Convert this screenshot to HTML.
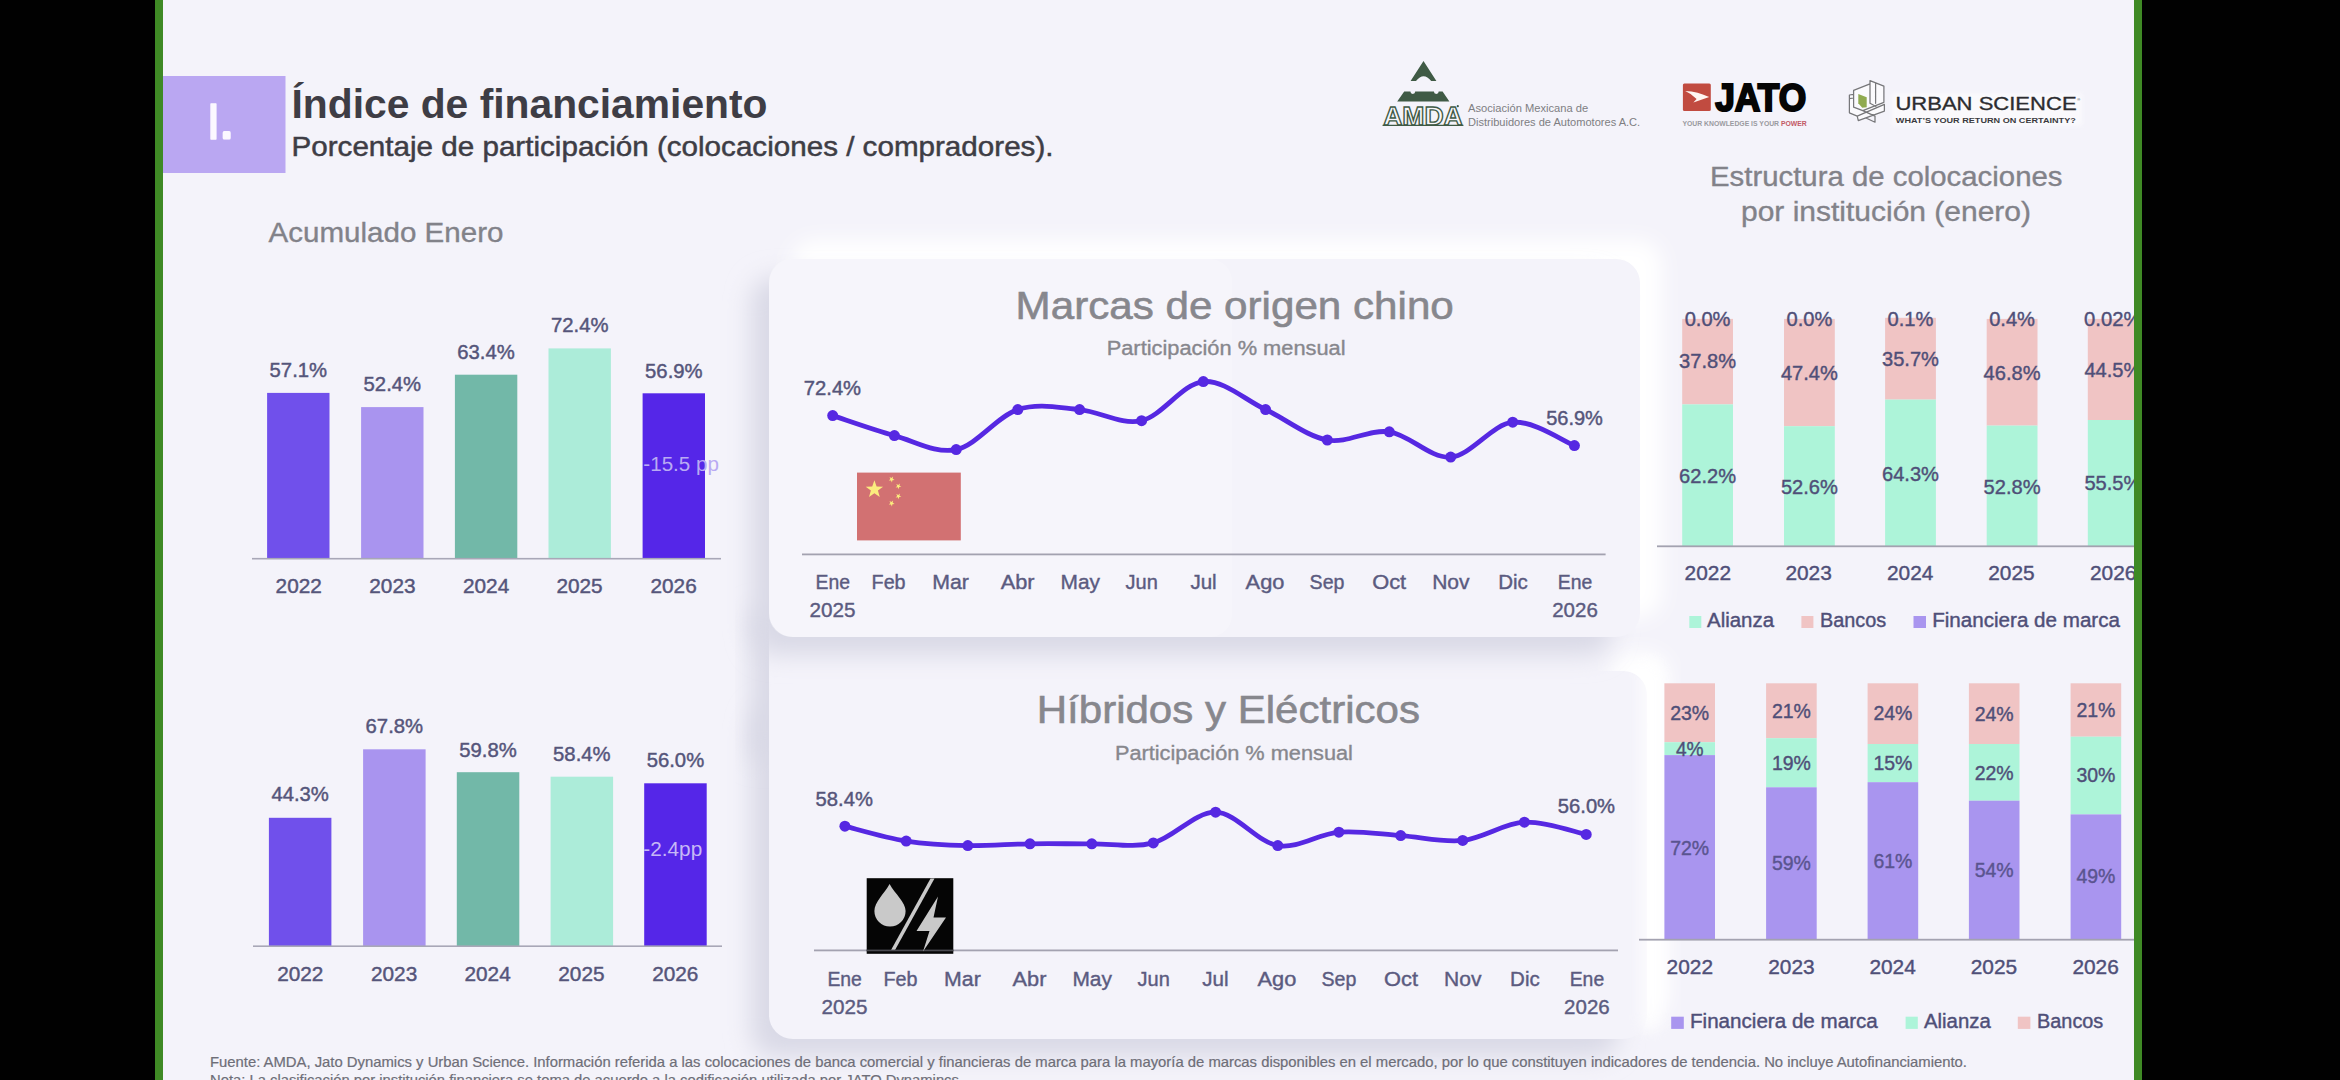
<!DOCTYPE html>
<html lang="es"><head><meta charset="utf-8"><title>Índice de financiamiento</title>
<style>html,body{margin:0;padding:0;background:#000;width:2340px;height:1080px;overflow:hidden}svg{display:block;font-family:"Liberation Sans", sans-serif}</style></head><body>
<svg width="2340" height="1080" viewBox="0 0 2340 1080">
<defs><filter id="b24" x="-20%" y="-20%" width="140%" height="140%"><feGaussianBlur stdDeviation="9.5"/></filter><filter id="b18" x="-20%" y="-20%" width="140%" height="140%"><feGaussianBlur stdDeviation="12"/></filter><filter id="b6" x="-200%" y="-20%" width="500%" height="140%"><feGaussianBlur stdDeviation="7"/></filter><filter id="b2" x="-10%" y="-30%" width="120%" height="160%"><feGaussianBlur stdDeviation="2"/></filter><filter id="b12" x="-20%" y="-20%" width="140%" height="140%"><feGaussianBlur stdDeviation="11"/></filter><clipPath id="leftband"><rect x="690" y="560" width="79" height="260"/></clipPath><clipPath id="slide"><rect x="163" y="0" width="1971" height="1080"/></clipPath></defs>
<rect x="0" y="0" width="2340" height="1080" fill="#010101"/>
<rect x="155" y="0" width="1987" height="1080" fill="#3f8a25"/>
<rect x="163" y="0" width="1971" height="1080" fill="#f4f3fa"/>
<g clip-path="url(#slide)">
<rect x="1610" y="652" width="59" height="368" rx="24" fill="#ffffff" filter="url(#b24)"/>
<rect x="791" y="240" width="871" height="378" rx="24" fill="#ffffff" filter="url(#b24)"/>
<rect x="751" y="705" width="868" height="352" rx="24" fill="#d9d9e6" filter="url(#b18)"/>
<g clip-path="url(#leftband)"><rect x="751" y="610" width="80" height="150" fill="#d9d9e6" filter="url(#b18)"/></g>
<rect x="769" y="671" width="878" height="368" rx="24" fill="#f4f3fa"/>
<rect x="751" y="277" width="861" height="378" rx="24" fill="#d9d9e6" filter="url(#b18)"/>
<rect x="769" y="259" width="871" height="378" rx="24" fill="#f4f3fa"/>
<rect x="769" y="259" width="463" height="378" rx="22" fill="#ffffff" opacity="0.22"/>
<rect x="1641" y="660" width="20" height="372" rx="10" fill="#ffffff" opacity="0.75" filter="url(#b6)"/>
<path d="M1423.5,61 L1436.4,81 L1431.2,81 Q1423.6,71.5 1416,81 L1410.6,81 Z" fill="#3f5a45"/>
<path d="M1404.2,91.5 L1410.4,91.5 A2.4,2.4 0 0 0 1415.2,91.5 L1433.9,91.5 A2.4,2.4 0 0 0 1438.7,91.5 L1442.6,91.5 L1449.4,101.4 L1397.2,101.4 Z" fill="#3f5a45"/>
<text x="1383.2" y="124.6" font-size="26.5" font-weight="700" fill="#f7f6fb" stroke="#3f5a45" stroke-width="1.35" stroke-linejoin="miter" textLength="79.6" lengthAdjust="spacingAndGlyphs">AMDA</text>
<path d="M1382.6,125.4 L1463.4,125.4" fill="none" stroke="#3f5a45" stroke-width="1.1"/>
<circle cx="1457.8" cy="106.2" r="1.1" fill="#3f5a45"/>
<text x="1468.0" y="112.1" font-size="11.2" fill="#7e7e82" font-weight="400" textLength="120.2" lengthAdjust="spacingAndGlyphs" >Asociación Mexicana de</text>
<text x="1468.0" y="125.5" font-size="11.2" fill="#7e7e82" font-weight="400" textLength="172.2" lengthAdjust="spacingAndGlyphs" >Distribuidores de Automotores A.C.</text>
<rect x="1682.9" y="83.4" width="27.9" height="27.6" rx="1.5" fill="#c14b40"/>
<path d="M1685.2,91 Q1698,91.6 1709.2,97.1 L1693.4,102.6 L1696.6,98.9 Q1692,94 1685.2,91 Z" fill="#fff6f2"/>
<text x="1715.2" y="110.5" font-size="38" fill="#050505" font-weight="700" textLength="91.0" lengthAdjust="spacingAndGlyphs" stroke="#050505" stroke-width="2.1" stroke-linejoin="miter">JATO</text>
<text x="1682.4" y="126.2" font-size="6.6" font-weight="700" fill="#9a9aa0" textLength="124.4" lengthAdjust="spacingAndGlyphs">YOUR KNOWLEDGE IS YOUR <tspan fill="#c25a66">POWER</tspan></text>
<path d="M1853.6,90.3 L1870,83.9 L1870,80.6 L1883.9,86.1 L1884.4,111.1 L1858.3,120.6 L1849.4,112.8 L1849.4,95 L1853.6,94.4 Z" fill="#ffffff" opacity="0.6"/>
<path d="M1858.3,93.9 L1866.7,97.2 L1866.7,107.2 L1862.2,107.8 L1858.3,103.3 Z" fill="#90aa50"/>
<path d="M1870,80.6 L1883.9,86.1 L1883.9,101.7 M1870,80.6 L1870,103.3 M1875.6,83 L1875.6,103.3 M1853.6,90.3 L1870,83.9 M1853.6,90.3 L1853.6,107.2 L1862.8,110.6 L1883.9,102.3 M1849.4,95 L1853.6,94.4 M1849.4,95 L1849.4,112.8 L1857.2,116.1 L1884.4,104.4 L1884.4,111.1 L1858.3,120.6 L1857.2,116.1 M1849.4,98.6 L1853.6,98 M1862.8,110.6 L1875,116.1 L1875,122.2 L1866,118 M1870,103.3 L1876,106.5" fill="none" stroke="#77777a" stroke-width="1.25" stroke-linejoin="round" stroke-linecap="round"/>
<rect x="1892" y="93" width="190" height="33" fill="#ffffff" opacity="0.55" filter="url(#b2)"/>
<text x="1895.4" y="109.5" font-size="17.6" fill="#2c2c30" font-weight="400" textLength="181.2" lengthAdjust="spacingAndGlyphs" stroke="#2c2c30" stroke-width="0.3">URBAN SCIENCE</text>
<text x="1895.8" y="122.5" font-size="7.7" fill="#3a3a3e" font-weight="700" textLength="180.0" lengthAdjust="spacingAndGlyphs" >WHAT&#8217;S YOUR RETURN ON CERTAINTY?</text>
<text x="2077.2" y="101" font-size="4" fill="#2c2c30">®</text>
<rect x="163" y="76" width="122.5" height="97" fill="#baa7f2"/>
<text y="138.9" font-size="50" fill="#fbf8ff" stroke="#fbf8ff" stroke-linejoin="round"><tspan x="206.6" stroke-width="1.5">I</tspan><tspan x="219.8" y="138" stroke-width="3.2">.</tspan></text>
<text x="291.5" y="118.0" font-size="41.5" fill="#3e3d45" font-weight="700" textLength="476.0" lengthAdjust="spacingAndGlyphs" >Índice de financiamiento</text>
<text x="291.5" y="155.5" font-size="28.5" fill="#3e3d45" font-weight="400" textLength="762.0" lengthAdjust="spacingAndGlyphs" stroke="#3e3d45" stroke-width="0.5">Porcentaje de participación (colocaciones / compradores).</text>
<text x="268.5" y="242.3" font-size="28" fill="#828289" font-weight="400" textLength="235.0" lengthAdjust="spacingAndGlyphs" stroke="#828289" stroke-width="0.35">Acumulado Enero</text>
<rect x="267.1" y="392.9" width="62.4" height="165.8" fill="#7050eb"/>
<rect x="361.1" y="407.1" width="62.4" height="151.6" fill="#a994ef"/>
<rect x="454.9" y="374.7" width="62.4" height="184.0" fill="#72b8a8"/>
<rect x="548.5" y="348.4" width="62.4" height="210.3" fill="#acecd9"/>
<rect x="642.6" y="393.3" width="62.4" height="165.4" fill="#5526e8"/>
<rect x="252" y="557.9" width="469" height="1.6" fill="#a8a7b7"/>
<text x="269.6" y="377.3" font-size="20.5" fill="#55557a" font-weight="400" textLength="57.5" lengthAdjust="spacingAndGlyphs" stroke="#55557a" stroke-width="0.45">57.1%</text>
<text x="363.6" y="390.7" font-size="20.5" fill="#55557a" font-weight="400" textLength="57.5" lengthAdjust="spacingAndGlyphs" stroke="#55557a" stroke-width="0.45">52.4%</text>
<text x="457.3" y="358.7" font-size="20.5" fill="#55557a" font-weight="400" textLength="57.5" lengthAdjust="spacingAndGlyphs" stroke="#55557a" stroke-width="0.45">63.4%</text>
<text x="551.0" y="332.2" font-size="20.5" fill="#55557a" font-weight="400" textLength="57.5" lengthAdjust="spacingAndGlyphs" stroke="#55557a" stroke-width="0.45">72.4%</text>
<text x="645.1" y="377.8" font-size="20.5" fill="#55557a" font-weight="400" textLength="57.5" lengthAdjust="spacingAndGlyphs" stroke="#55557a" stroke-width="0.45">56.9%</text>
<text x="275.6" y="593.3" font-size="21" fill="#55557a" font-weight="400" textLength="46.2" lengthAdjust="spacingAndGlyphs" stroke="#55557a" stroke-width="0.45">2022</text>
<text x="369.3" y="593.3" font-size="21" fill="#55557a" font-weight="400" textLength="46.2" lengthAdjust="spacingAndGlyphs" stroke="#55557a" stroke-width="0.45">2023</text>
<text x="463.0" y="593.3" font-size="21" fill="#55557a" font-weight="400" textLength="46.2" lengthAdjust="spacingAndGlyphs" stroke="#55557a" stroke-width="0.45">2024</text>
<text x="556.4" y="593.3" font-size="21" fill="#55557a" font-weight="400" textLength="46.2" lengthAdjust="spacingAndGlyphs" stroke="#55557a" stroke-width="0.45">2025</text>
<text x="650.5" y="593.3" font-size="21" fill="#55557a" font-weight="400" textLength="46.2" lengthAdjust="spacingAndGlyphs" stroke="#55557a" stroke-width="0.45">2026</text>
<text x="643.3" y="471.1" font-size="20.5" fill="#b9aaf3" font-weight="400" textLength="75.7" lengthAdjust="spacingAndGlyphs" >-15.5 pp</text>
<rect x="268.9" y="817.8" width="62.5" height="128.4" fill="#7050eb"/>
<rect x="363.1" y="749.3" width="62.5" height="196.9" fill="#a994ef"/>
<rect x="456.8" y="772.2" width="62.5" height="174.0" fill="#72b8a8"/>
<rect x="550.6" y="776.7" width="62.5" height="169.5" fill="#acecd9"/>
<rect x="644.2" y="783.3" width="62.5" height="162.9" fill="#5526e8"/>
<rect x="253" y="945.4" width="469" height="1.6" fill="#a8a7b7"/>
<text x="271.4" y="801.1" font-size="20.5" fill="#55557a" font-weight="400" textLength="57.5" lengthAdjust="spacingAndGlyphs" stroke="#55557a" stroke-width="0.45">44.3%</text>
<text x="365.6" y="733.3" font-size="20.5" fill="#55557a" font-weight="400" textLength="57.5" lengthAdjust="spacingAndGlyphs" stroke="#55557a" stroke-width="0.45">67.8%</text>
<text x="459.3" y="756.7" font-size="20.5" fill="#55557a" font-weight="400" textLength="57.5" lengthAdjust="spacingAndGlyphs" stroke="#55557a" stroke-width="0.45">59.8%</text>
<text x="553.1" y="760.7" font-size="20.5" fill="#55557a" font-weight="400" textLength="57.5" lengthAdjust="spacingAndGlyphs" stroke="#55557a" stroke-width="0.45">58.4%</text>
<text x="646.7" y="767.3" font-size="20.5" fill="#55557a" font-weight="400" textLength="57.5" lengthAdjust="spacingAndGlyphs" stroke="#55557a" stroke-width="0.45">56.0%</text>
<text x="277.2" y="981.1" font-size="21" fill="#55557a" font-weight="400" textLength="46.2" lengthAdjust="spacingAndGlyphs" stroke="#55557a" stroke-width="0.45">2022</text>
<text x="371.0" y="981.1" font-size="21" fill="#55557a" font-weight="400" textLength="46.2" lengthAdjust="spacingAndGlyphs" stroke="#55557a" stroke-width="0.45">2023</text>
<text x="464.5" y="981.1" font-size="21" fill="#55557a" font-weight="400" textLength="46.2" lengthAdjust="spacingAndGlyphs" stroke="#55557a" stroke-width="0.45">2024</text>
<text x="558.3" y="981.1" font-size="21" fill="#55557a" font-weight="400" textLength="46.2" lengthAdjust="spacingAndGlyphs" stroke="#55557a" stroke-width="0.45">2025</text>
<text x="652.2" y="981.1" font-size="21" fill="#55557a" font-weight="400" textLength="46.2" lengthAdjust="spacingAndGlyphs" stroke="#55557a" stroke-width="0.45">2026</text>
<text x="643.3" y="855.6" font-size="20.5" fill="#c6b8f6" font-weight="400" textLength="58.9" lengthAdjust="spacingAndGlyphs" >-2.4pp</text>
<text x="1015.6" y="318.9" font-size="39.5" fill="#87878d" font-weight="400" textLength="438.2" lengthAdjust="spacingAndGlyphs" stroke="#87878d" stroke-width="0.6">Marcas de origen chino</text>
<text x="1106.7" y="354.9" font-size="20" fill="#87878d" font-weight="400" textLength="238.9" lengthAdjust="spacingAndGlyphs" stroke="#87878d" stroke-width="0.35">Participación % mensual</text>
<rect x="802" y="553.5" width="803.6" height="1.8" fill="#a3a2b0"/>
<path d="M832.7,415.6 C843.0,418.9 873.8,429.9 894.4,435.6 C915.0,441.3 935.6,453.9 956.2,449.6 C976.8,445.3 997.2,416.3 1017.8,409.6 C1038.4,402.9 1059.0,407.8 1079.6,409.6 C1100.2,411.5 1121.0,425.4 1141.6,420.7 C1162.2,416.0 1182.6,383.5 1203.3,381.6 C1224.0,379.8 1244.9,399.9 1265.6,409.6 C1286.3,419.3 1306.7,436.3 1327.3,440.0 C1347.9,443.7 1368.7,428.9 1389.3,431.8 C1409.9,434.7 1430.1,458.7 1450.7,457.1 C1471.3,455.5 1492.1,424.1 1512.7,422.2 C1533.3,420.3 1564.1,441.7 1574.4,445.6" fill="none" stroke="#5628e2" stroke-width="4.8" stroke-linecap="round" stroke-linejoin="round"/>
<circle cx="832.7" cy="415.6" r="5.5" fill="#5628e2"/>
<circle cx="894.4" cy="435.6" r="5.5" fill="#5628e2"/>
<circle cx="956.2" cy="449.6" r="5.5" fill="#5628e2"/>
<circle cx="1017.8" cy="409.6" r="5.5" fill="#5628e2"/>
<circle cx="1079.6" cy="409.6" r="5.5" fill="#5628e2"/>
<circle cx="1141.6" cy="420.7" r="5.5" fill="#5628e2"/>
<circle cx="1203.3" cy="381.6" r="5.5" fill="#5628e2"/>
<circle cx="1265.6" cy="409.6" r="5.5" fill="#5628e2"/>
<circle cx="1327.3" cy="440.0" r="5.5" fill="#5628e2"/>
<circle cx="1389.3" cy="431.8" r="5.5" fill="#5628e2"/>
<circle cx="1450.7" cy="457.1" r="5.5" fill="#5628e2"/>
<circle cx="1512.7" cy="422.2" r="5.5" fill="#5628e2"/>
<circle cx="1574.4" cy="445.6" r="5.5" fill="#5628e2"/>
<text x="803.8" y="394.9" font-size="20.5" fill="#55557a" font-weight="400" textLength="57.3" lengthAdjust="spacingAndGlyphs" stroke="#55557a" stroke-width="0.45">72.4%</text>
<text x="1546.2" y="425.1" font-size="20.5" fill="#55557a" font-weight="400" textLength="56.7" lengthAdjust="spacingAndGlyphs" stroke="#55557a" stroke-width="0.45">56.9%</text>
<text x="815.5" y="589.2" font-size="20.5" fill="#5b5b80" font-weight="400" textLength="34.5" lengthAdjust="spacingAndGlyphs" stroke="#5b5b80" stroke-width="0.4">Ene</text>
<text x="871.6" y="589.2" font-size="20.5" fill="#5b5b80" font-weight="400" textLength="34.0" lengthAdjust="spacingAndGlyphs" stroke="#5b5b80" stroke-width="0.4">Feb</text>
<text x="932.2" y="589.2" font-size="20.5" fill="#5b5b80" font-weight="400" textLength="36.7" lengthAdjust="spacingAndGlyphs" stroke="#5b5b80" stroke-width="0.4">Mar</text>
<text x="1000.7" y="589.2" font-size="20.5" fill="#5b5b80" font-weight="400" textLength="33.8" lengthAdjust="spacingAndGlyphs" stroke="#5b5b80" stroke-width="0.4">Abr</text>
<text x="1060.5" y="589.2" font-size="20.5" fill="#5b5b80" font-weight="400" textLength="39.5" lengthAdjust="spacingAndGlyphs" stroke="#5b5b80" stroke-width="0.4">May</text>
<text x="1125.5" y="589.2" font-size="20.5" fill="#5b5b80" font-weight="400" textLength="32.3" lengthAdjust="spacingAndGlyphs" stroke="#5b5b80" stroke-width="0.4">Jun</text>
<text x="1190.4" y="589.2" font-size="20.5" fill="#5b5b80" font-weight="400" textLength="26.3" lengthAdjust="spacingAndGlyphs" stroke="#5b5b80" stroke-width="0.4">Jul</text>
<text x="1245.6" y="589.2" font-size="20.5" fill="#5b5b80" font-weight="400" textLength="38.8" lengthAdjust="spacingAndGlyphs" stroke="#5b5b80" stroke-width="0.4">Ago</text>
<text x="1309.6" y="589.2" font-size="20.5" fill="#5b5b80" font-weight="400" textLength="34.8" lengthAdjust="spacingAndGlyphs" stroke="#5b5b80" stroke-width="0.4">Sep</text>
<text x="1372.2" y="589.2" font-size="20.5" fill="#5b5b80" font-weight="400" textLength="34.0" lengthAdjust="spacingAndGlyphs" stroke="#5b5b80" stroke-width="0.4">Oct</text>
<text x="1432.2" y="589.2" font-size="20.5" fill="#5b5b80" font-weight="400" textLength="37.4" lengthAdjust="spacingAndGlyphs" stroke="#5b5b80" stroke-width="0.4">Nov</text>
<text x="1498.2" y="589.2" font-size="20.5" fill="#5b5b80" font-weight="400" textLength="29.6" lengthAdjust="spacingAndGlyphs" stroke="#5b5b80" stroke-width="0.4">Dic</text>
<text x="1557.8" y="589.2" font-size="20.5" fill="#5b5b80" font-weight="400" textLength="34.5" lengthAdjust="spacingAndGlyphs" stroke="#5b5b80" stroke-width="0.4">Ene</text>
<text x="809.6" y="616.7" font-size="21" fill="#5b5b80" font-weight="400" textLength="46.0" lengthAdjust="spacingAndGlyphs" stroke="#5b5b80" stroke-width="0.4">2025</text>
<text x="1552.2" y="616.7" font-size="21" fill="#5b5b80" font-weight="400" textLength="45.6" lengthAdjust="spacingAndGlyphs" stroke="#5b5b80" stroke-width="0.4">2026</text>
<text x="1036.7" y="722.7" font-size="39.5" fill="#87878d" font-weight="400" textLength="383.3" lengthAdjust="spacingAndGlyphs" stroke="#87878d" stroke-width="0.6">Híbridos y Eléctricos</text>
<text x="1114.9" y="760.0" font-size="20" fill="#87878d" font-weight="400" textLength="238.0" lengthAdjust="spacingAndGlyphs" stroke="#87878d" stroke-width="0.35">Participación % mensual</text>
<rect x="814" y="949.5" width="804.0" height="1.8" fill="#a3a2b0"/>
<path d="M844.9,826.2 C855.1,828.7 885.7,837.9 906.2,841.1 C926.7,844.3 947.2,845.2 967.8,845.6 C988.4,846.0 1009.3,844.1 1030.0,843.8 C1050.7,843.5 1071.2,843.9 1091.8,843.8 C1112.3,843.6 1132.7,848.2 1153.3,842.9 C1173.9,837.6 1194.8,811.8 1215.6,812.2 C1236.3,812.7 1257.2,842.3 1277.8,845.6 C1298.3,848.9 1318.4,833.9 1338.9,832.2 C1359.4,830.5 1380.1,834.2 1400.7,835.6 C1421.3,837.0 1442.1,842.6 1462.7,840.4 C1483.3,838.2 1503.8,823.2 1524.4,822.2 C1545.0,821.2 1575.9,832.4 1586.2,834.4" fill="none" stroke="#5628e2" stroke-width="4.8" stroke-linecap="round" stroke-linejoin="round"/>
<circle cx="844.9" cy="826.2" r="5.5" fill="#5628e2"/>
<circle cx="906.2" cy="841.1" r="5.5" fill="#5628e2"/>
<circle cx="967.8" cy="845.6" r="5.5" fill="#5628e2"/>
<circle cx="1030.0" cy="843.8" r="5.5" fill="#5628e2"/>
<circle cx="1091.8" cy="843.8" r="5.5" fill="#5628e2"/>
<circle cx="1153.3" cy="842.9" r="5.5" fill="#5628e2"/>
<circle cx="1215.6" cy="812.2" r="5.5" fill="#5628e2"/>
<circle cx="1277.8" cy="845.6" r="5.5" fill="#5628e2"/>
<circle cx="1338.9" cy="832.2" r="5.5" fill="#5628e2"/>
<circle cx="1400.7" cy="835.6" r="5.5" fill="#5628e2"/>
<circle cx="1462.7" cy="840.4" r="5.5" fill="#5628e2"/>
<circle cx="1524.4" cy="822.2" r="5.5" fill="#5628e2"/>
<circle cx="1586.2" cy="834.4" r="5.5" fill="#5628e2"/>
<text x="815.6" y="805.6" font-size="20.5" fill="#55557a" font-weight="400" textLength="57.3" lengthAdjust="spacingAndGlyphs" stroke="#55557a" stroke-width="0.45">58.4%</text>
<text x="1557.8" y="812.9" font-size="20.5" fill="#55557a" font-weight="400" textLength="57.3" lengthAdjust="spacingAndGlyphs" stroke="#55557a" stroke-width="0.45">56.0%</text>
<text x="827.4" y="986.4" font-size="20.5" fill="#5b5b80" font-weight="400" textLength="34.5" lengthAdjust="spacingAndGlyphs" stroke="#5b5b80" stroke-width="0.4">Ene</text>
<text x="883.5" y="986.4" font-size="20.5" fill="#5b5b80" font-weight="400" textLength="34.0" lengthAdjust="spacingAndGlyphs" stroke="#5b5b80" stroke-width="0.4">Feb</text>
<text x="944.1" y="986.4" font-size="20.5" fill="#5b5b80" font-weight="400" textLength="36.7" lengthAdjust="spacingAndGlyphs" stroke="#5b5b80" stroke-width="0.4">Mar</text>
<text x="1012.6" y="986.4" font-size="20.5" fill="#5b5b80" font-weight="400" textLength="33.8" lengthAdjust="spacingAndGlyphs" stroke="#5b5b80" stroke-width="0.4">Abr</text>
<text x="1072.4" y="986.4" font-size="20.5" fill="#5b5b80" font-weight="400" textLength="39.5" lengthAdjust="spacingAndGlyphs" stroke="#5b5b80" stroke-width="0.4">May</text>
<text x="1137.5" y="986.4" font-size="20.5" fill="#5b5b80" font-weight="400" textLength="32.3" lengthAdjust="spacingAndGlyphs" stroke="#5b5b80" stroke-width="0.4">Jun</text>
<text x="1202.3" y="986.4" font-size="20.5" fill="#5b5b80" font-weight="400" textLength="26.3" lengthAdjust="spacingAndGlyphs" stroke="#5b5b80" stroke-width="0.4">Jul</text>
<text x="1257.5" y="986.4" font-size="20.5" fill="#5b5b80" font-weight="400" textLength="38.8" lengthAdjust="spacingAndGlyphs" stroke="#5b5b80" stroke-width="0.4">Ago</text>
<text x="1321.5" y="986.4" font-size="20.5" fill="#5b5b80" font-weight="400" textLength="34.8" lengthAdjust="spacingAndGlyphs" stroke="#5b5b80" stroke-width="0.4">Sep</text>
<text x="1384.1" y="986.4" font-size="20.5" fill="#5b5b80" font-weight="400" textLength="34.0" lengthAdjust="spacingAndGlyphs" stroke="#5b5b80" stroke-width="0.4">Oct</text>
<text x="1444.1" y="986.4" font-size="20.5" fill="#5b5b80" font-weight="400" textLength="37.4" lengthAdjust="spacingAndGlyphs" stroke="#5b5b80" stroke-width="0.4">Nov</text>
<text x="1510.1" y="986.4" font-size="20.5" fill="#5b5b80" font-weight="400" textLength="29.6" lengthAdjust="spacingAndGlyphs" stroke="#5b5b80" stroke-width="0.4">Dic</text>
<text x="1569.7" y="986.4" font-size="20.5" fill="#5b5b80" font-weight="400" textLength="34.5" lengthAdjust="spacingAndGlyphs" stroke="#5b5b80" stroke-width="0.4">Ene</text>
<text x="821.5" y="1013.9" font-size="21" fill="#5b5b80" font-weight="400" textLength="46.0" lengthAdjust="spacingAndGlyphs" stroke="#5b5b80" stroke-width="0.4">2025</text>
<text x="1564.1" y="1013.9" font-size="21" fill="#5b5b80" font-weight="400" textLength="45.6" lengthAdjust="spacingAndGlyphs" stroke="#5b5b80" stroke-width="0.4">2026</text>
<rect x="857" y="472.6" width="103.8" height="67.8" fill="#d27172"/>
<polygon points="874.4,480.3 876.6,486.5 883.1,486.7 877.9,490.6 879.8,496.9 874.4,493.2 869.0,496.9 870.9,490.6 865.7,486.7 872.2,486.5" fill="#fbec7e"/>
<polygon points="893.1,476.6 892.7,478.8 894.6,479.9 892.4,480.2 891.9,482.4 891.0,480.4 888.8,480.6 890.4,479.0 889.5,477.0 891.5,478.1" fill="#fbec7e"/>
<polygon points="899.9,483.5 899.5,485.7 901.4,486.8 899.2,487.1 898.7,489.3 897.8,487.3 895.6,487.5 897.2,485.9 896.3,483.9 898.3,485.0" fill="#fbec7e"/>
<polygon points="899.9,493.5 899.5,495.7 901.4,496.8 899.2,497.1 898.7,499.3 897.8,497.3 895.6,497.5 897.2,495.9 896.3,493.9 898.3,495.0" fill="#fbec7e"/>
<polygon points="893.1,500.6 892.7,502.8 894.6,503.9 892.4,504.2 891.9,506.4 891.0,504.4 888.8,504.6 890.4,503.0 889.5,501.0 891.5,502.1" fill="#fbec7e"/>
<rect x="866.7" y="878.2" width="86.6" height="75.6" fill="#050505"/>
<path d="M889.6,884 C884,894 874.4,902 874.4,911 A15.6,15.6 0 0 0 905.6,911 C905.6,902 895,894 889.6,884 Z" fill="#c9c9c9"/>
<path d="M890.5,951 L930.5,878.5 L934.5,878.5 L894.5,951 Z" fill="#c9c9c9"/>
<rect x="866.7" y="949.6" width="86.6" height="1.7" fill="#4a4a50"/>
<path d="M938,896.5 L916.5,931 L929.5,931 L923,951.5 L946,917.5 L933.5,917.5 Z" fill="#c9c9c9"/>
<text x="1710.0" y="186.0" font-size="27.5" fill="#828289" font-weight="400" textLength="352.5" lengthAdjust="spacingAndGlyphs" stroke="#828289" stroke-width="0.35">Estructura de colocaciones</text>
<text x="1741.0" y="221.3" font-size="27.5" fill="#828289" font-weight="400" textLength="290.0" lengthAdjust="spacingAndGlyphs" stroke="#828289" stroke-width="0.35">por institución (enero)</text>
<rect x="1682.2" y="318.9" width="50.8" height="85.5" fill="#f0c4c4"/>
<rect x="1682.2" y="404.4" width="50.8" height="141.8" fill="#adf4d9"/>
<rect x="1784.0" y="318.9" width="50.8" height="107.3" fill="#f0c4c4"/>
<rect x="1784.0" y="426.2" width="50.8" height="120.0" fill="#adf4d9"/>
<rect x="1885.1" y="317.8" width="50.8" height="81.8" fill="#f0c4c4"/>
<rect x="1885.1" y="399.6" width="50.8" height="146.6" fill="#adf4d9"/>
<rect x="1986.7" y="318.9" width="50.8" height="106.7" fill="#f0c4c4"/>
<rect x="1986.7" y="425.6" width="50.8" height="120.6" fill="#adf4d9"/>
<rect x="2087.8" y="318.9" width="50.8" height="101.1" fill="#f0c4c4"/>
<rect x="2087.8" y="420.0" width="50.8" height="126.2" fill="#adf4d9"/>
<rect x="1657" y="545.4" width="480" height="1.8" fill="#a3a2b0"/>
<text x="1684.7" y="325.6" font-size="20.5" fill="#4f4f78" font-weight="400" textLength="45.8" lengthAdjust="spacingAndGlyphs" stroke="#4f4f78" stroke-width="0.4">0.0%</text>
<text x="1679.1" y="368.4" font-size="20.5" fill="#4f4f78" font-weight="400" textLength="57.0" lengthAdjust="spacingAndGlyphs" stroke="#4f4f78" stroke-width="0.4">37.8%</text>
<text x="1679.1" y="482.7" font-size="20.5" fill="#4f4f78" font-weight="400" textLength="57.0" lengthAdjust="spacingAndGlyphs" stroke="#4f4f78" stroke-width="0.4">62.2%</text>
<text x="1786.5" y="325.6" font-size="20.5" fill="#4f4f78" font-weight="400" textLength="45.8" lengthAdjust="spacingAndGlyphs" stroke="#4f4f78" stroke-width="0.4">0.0%</text>
<text x="1780.9" y="380.0" font-size="20.5" fill="#4f4f78" font-weight="400" textLength="57.0" lengthAdjust="spacingAndGlyphs" stroke="#4f4f78" stroke-width="0.4">47.4%</text>
<text x="1780.9" y="494.4" font-size="20.5" fill="#4f4f78" font-weight="400" textLength="57.0" lengthAdjust="spacingAndGlyphs" stroke="#4f4f78" stroke-width="0.4">52.6%</text>
<text x="1887.6" y="325.6" font-size="20.5" fill="#4f4f78" font-weight="400" textLength="45.8" lengthAdjust="spacingAndGlyphs" stroke="#4f4f78" stroke-width="0.4">0.1%</text>
<text x="1882.0" y="366.2" font-size="20.5" fill="#4f4f78" font-weight="400" textLength="57.0" lengthAdjust="spacingAndGlyphs" stroke="#4f4f78" stroke-width="0.4">35.7%</text>
<text x="1882.0" y="480.7" font-size="20.5" fill="#4f4f78" font-weight="400" textLength="57.0" lengthAdjust="spacingAndGlyphs" stroke="#4f4f78" stroke-width="0.4">64.3%</text>
<text x="1989.2" y="325.6" font-size="20.5" fill="#4f4f78" font-weight="400" textLength="45.8" lengthAdjust="spacingAndGlyphs" stroke="#4f4f78" stroke-width="0.4">0.4%</text>
<text x="1983.6" y="380.0" font-size="20.5" fill="#4f4f78" font-weight="400" textLength="57.0" lengthAdjust="spacingAndGlyphs" stroke="#4f4f78" stroke-width="0.4">46.8%</text>
<text x="1983.6" y="493.8" font-size="20.5" fill="#4f4f78" font-weight="400" textLength="57.0" lengthAdjust="spacingAndGlyphs" stroke="#4f4f78" stroke-width="0.4">52.8%</text>
<text x="2084.0" y="325.6" font-size="20.5" fill="#4f4f78" font-weight="400" textLength="57.5" lengthAdjust="spacingAndGlyphs" stroke="#4f4f78" stroke-width="0.4">0.02%</text>
<text x="2084.4" y="376.7" font-size="20.5" fill="#4f4f78" font-weight="400" textLength="57.0" lengthAdjust="spacingAndGlyphs" stroke="#4f4f78" stroke-width="0.4">44.5%</text>
<text x="2084.4" y="490.0" font-size="20.5" fill="#4f4f78" font-weight="400" textLength="57.0" lengthAdjust="spacingAndGlyphs" stroke="#4f4f78" stroke-width="0.4">55.5%</text>
<text x="1684.6" y="580.4" font-size="21" fill="#4f4f78" font-weight="400" textLength="46.4" lengthAdjust="spacingAndGlyphs" stroke="#4f4f78" stroke-width="0.4">2022</text>
<text x="1785.4" y="580.4" font-size="21" fill="#4f4f78" font-weight="400" textLength="46.4" lengthAdjust="spacingAndGlyphs" stroke="#4f4f78" stroke-width="0.4">2023</text>
<text x="1887.0" y="580.4" font-size="21" fill="#4f4f78" font-weight="400" textLength="46.4" lengthAdjust="spacingAndGlyphs" stroke="#4f4f78" stroke-width="0.4">2024</text>
<text x="1988.2" y="580.4" font-size="21" fill="#4f4f78" font-weight="400" textLength="46.4" lengthAdjust="spacingAndGlyphs" stroke="#4f4f78" stroke-width="0.4">2025</text>
<text x="2090.0" y="580.4" font-size="21" fill="#4f4f78" font-weight="400" textLength="46.4" lengthAdjust="spacingAndGlyphs" stroke="#4f4f78" stroke-width="0.4">2026</text>
<rect x="1689.3" y="616" width="12" height="12" fill="#adf4d9"/>
<text x="1707.1" y="627.1" font-size="19.5" fill="#4f4f78" font-weight="400" textLength="66.9" lengthAdjust="spacingAndGlyphs" stroke="#4f4f78" stroke-width="0.4">Alianza</text>
<rect x="1801.4" y="616" width="12" height="12" fill="#f0c4c4"/>
<text x="1820.0" y="627.1" font-size="19.5" fill="#4f4f78" font-weight="400" textLength="66.2" lengthAdjust="spacingAndGlyphs" stroke="#4f4f78" stroke-width="0.4">Bancos</text>
<rect x="1913.5" y="616" width="12.5" height="12" fill="#a995ef"/>
<text x="1932.2" y="627.1" font-size="19.5" fill="#4f4f78" font-weight="400" textLength="187.8" lengthAdjust="spacingAndGlyphs" stroke="#4f4f78" stroke-width="0.4">Financiera de marca</text>
<rect x="1664.4" y="683.3" width="50.6" height="58.9" fill="#f0c4c4"/>
<rect x="1664.4" y="742.2" width="50.6" height="12.9" fill="#adf4d9"/>
<rect x="1664.4" y="755.1" width="50.6" height="184.5" fill="#a995ef"/>
<rect x="1766.1" y="683.3" width="50.6" height="54.9" fill="#f0c4c4"/>
<rect x="1766.1" y="738.2" width="50.6" height="49.1" fill="#adf4d9"/>
<rect x="1766.1" y="787.3" width="50.6" height="152.3" fill="#a995ef"/>
<rect x="1867.6" y="683.3" width="50.6" height="60.7" fill="#f0c4c4"/>
<rect x="1867.6" y="744.0" width="50.6" height="38.2" fill="#adf4d9"/>
<rect x="1867.6" y="782.2" width="50.6" height="157.4" fill="#a995ef"/>
<rect x="1968.9" y="683.3" width="50.6" height="60.7" fill="#f0c4c4"/>
<rect x="1968.9" y="744.0" width="50.6" height="56.7" fill="#adf4d9"/>
<rect x="1968.9" y="800.7" width="50.6" height="138.9" fill="#a995ef"/>
<rect x="2070.6" y="683.3" width="50.6" height="53.4" fill="#f0c4c4"/>
<rect x="2070.6" y="736.7" width="50.6" height="77.7" fill="#adf4d9"/>
<rect x="2070.6" y="814.4" width="50.6" height="125.2" fill="#a995ef"/>
<rect x="1639" y="938.8" width="500" height="1.8" fill="#a3a2b0"/>
<text x="1670.2" y="720.4" font-size="20.5" fill="#4f4f78" font-weight="400" textLength="39.0" lengthAdjust="spacingAndGlyphs" stroke="#4f4f78" stroke-width="0.4">23%</text>
<text x="1675.9" y="756.0" font-size="20.5" fill="#4f4f78" font-weight="400" textLength="27.7" lengthAdjust="spacingAndGlyphs" stroke="#4f4f78" stroke-width="0.4">4%</text>
<text x="1670.2" y="855.1" font-size="20.5" fill="#5a548f" font-weight="400" textLength="39.0" lengthAdjust="spacingAndGlyphs" stroke="#5a548f" stroke-width="0.4">72%</text>
<text x="1771.9" y="718.2" font-size="20.5" fill="#4f4f78" font-weight="400" textLength="39.0" lengthAdjust="spacingAndGlyphs" stroke="#4f4f78" stroke-width="0.4">21%</text>
<text x="1771.9" y="769.6" font-size="20.5" fill="#4f4f78" font-weight="400" textLength="39.0" lengthAdjust="spacingAndGlyphs" stroke="#4f4f78" stroke-width="0.4">19%</text>
<text x="1771.9" y="870.0" font-size="20.5" fill="#5a548f" font-weight="400" textLength="39.0" lengthAdjust="spacingAndGlyphs" stroke="#5a548f" stroke-width="0.4">59%</text>
<text x="1873.4" y="720.4" font-size="20.5" fill="#4f4f78" font-weight="400" textLength="39.0" lengthAdjust="spacingAndGlyphs" stroke="#4f4f78" stroke-width="0.4">24%</text>
<text x="1873.4" y="770.0" font-size="20.5" fill="#4f4f78" font-weight="400" textLength="39.0" lengthAdjust="spacingAndGlyphs" stroke="#4f4f78" stroke-width="0.4">15%</text>
<text x="1873.4" y="868.4" font-size="20.5" fill="#5a548f" font-weight="400" textLength="39.0" lengthAdjust="spacingAndGlyphs" stroke="#5a548f" stroke-width="0.4">61%</text>
<text x="1974.7" y="721.1" font-size="20.5" fill="#4f4f78" font-weight="400" textLength="39.0" lengthAdjust="spacingAndGlyphs" stroke="#4f4f78" stroke-width="0.4">24%</text>
<text x="1974.7" y="780.0" font-size="20.5" fill="#4f4f78" font-weight="400" textLength="39.0" lengthAdjust="spacingAndGlyphs" stroke="#4f4f78" stroke-width="0.4">22%</text>
<text x="1974.7" y="876.7" font-size="20.5" fill="#5a548f" font-weight="400" textLength="39.0" lengthAdjust="spacingAndGlyphs" stroke="#5a548f" stroke-width="0.4">54%</text>
<text x="2076.4" y="717.3" font-size="20.5" fill="#4f4f78" font-weight="400" textLength="39.0" lengthAdjust="spacingAndGlyphs" stroke="#4f4f78" stroke-width="0.4">21%</text>
<text x="2076.4" y="782.2" font-size="20.5" fill="#4f4f78" font-weight="400" textLength="39.0" lengthAdjust="spacingAndGlyphs" stroke="#4f4f78" stroke-width="0.4">30%</text>
<text x="2076.4" y="883.3" font-size="20.5" fill="#5a548f" font-weight="400" textLength="39.0" lengthAdjust="spacingAndGlyphs" stroke="#5a548f" stroke-width="0.4">49%</text>
<text x="1666.6" y="973.8" font-size="21" fill="#4f4f78" font-weight="400" textLength="46.4" lengthAdjust="spacingAndGlyphs" stroke="#4f4f78" stroke-width="0.4">2022</text>
<text x="1768.2" y="973.8" font-size="21" fill="#4f4f78" font-weight="400" textLength="46.4" lengthAdjust="spacingAndGlyphs" stroke="#4f4f78" stroke-width="0.4">2023</text>
<text x="1869.4" y="973.8" font-size="21" fill="#4f4f78" font-weight="400" textLength="46.4" lengthAdjust="spacingAndGlyphs" stroke="#4f4f78" stroke-width="0.4">2024</text>
<text x="1970.7" y="973.8" font-size="21" fill="#4f4f78" font-weight="400" textLength="46.4" lengthAdjust="spacingAndGlyphs" stroke="#4f4f78" stroke-width="0.4">2025</text>
<text x="2072.4" y="973.8" font-size="21" fill="#4f4f78" font-weight="400" textLength="46.4" lengthAdjust="spacingAndGlyphs" stroke="#4f4f78" stroke-width="0.4">2026</text>
<rect x="1671.2" y="1016.7" width="12.6" height="12.2" fill="#a995ef"/>
<text x="1690.0" y="1028.4" font-size="19.5" fill="#4f4f78" font-weight="400" textLength="187.8" lengthAdjust="spacingAndGlyphs" stroke="#4f4f78" stroke-width="0.4">Financiera de marca</text>
<rect x="1905.6" y="1016.7" width="12.2" height="12.2" fill="#adf4d9"/>
<text x="1924.0" y="1028.4" font-size="19.5" fill="#4f4f78" font-weight="400" textLength="66.7" lengthAdjust="spacingAndGlyphs" stroke="#4f4f78" stroke-width="0.4">Alianza</text>
<rect x="2017.8" y="1016.7" width="12.6" height="12.2" fill="#f0c4c4"/>
<text x="2037.1" y="1028.4" font-size="19.5" fill="#4f4f78" font-weight="400" textLength="66.2" lengthAdjust="spacingAndGlyphs" stroke="#4f4f78" stroke-width="0.4">Bancos</text>
<text x="210.0" y="1066.8" font-size="14.5" fill="#6e6e78" font-weight="400" textLength="1757.0" lengthAdjust="spacingAndGlyphs" stroke="#6e6e78" stroke-width="0.2">Fuente: AMDA, Jato Dynamics y Urban Science. Información referida a las colocaciones de banca comercial y financieras de marca para la mayoría de marcas disponibles en el mercado, por lo que constituyen indicadores de tendencia. No incluye Autofinanciamiento.</text>
<text x="210.0" y="1085.3" font-size="14.5" fill="#6e6e78" font-weight="400" textLength="753.0" lengthAdjust="spacingAndGlyphs" stroke="#6e6e78" stroke-width="0.2">Nota: La clasificación por institución financiera se toma de acuerdo a la codificación utilizada por JATO Dynamincs.</text>
</g>
</svg></body></html>
